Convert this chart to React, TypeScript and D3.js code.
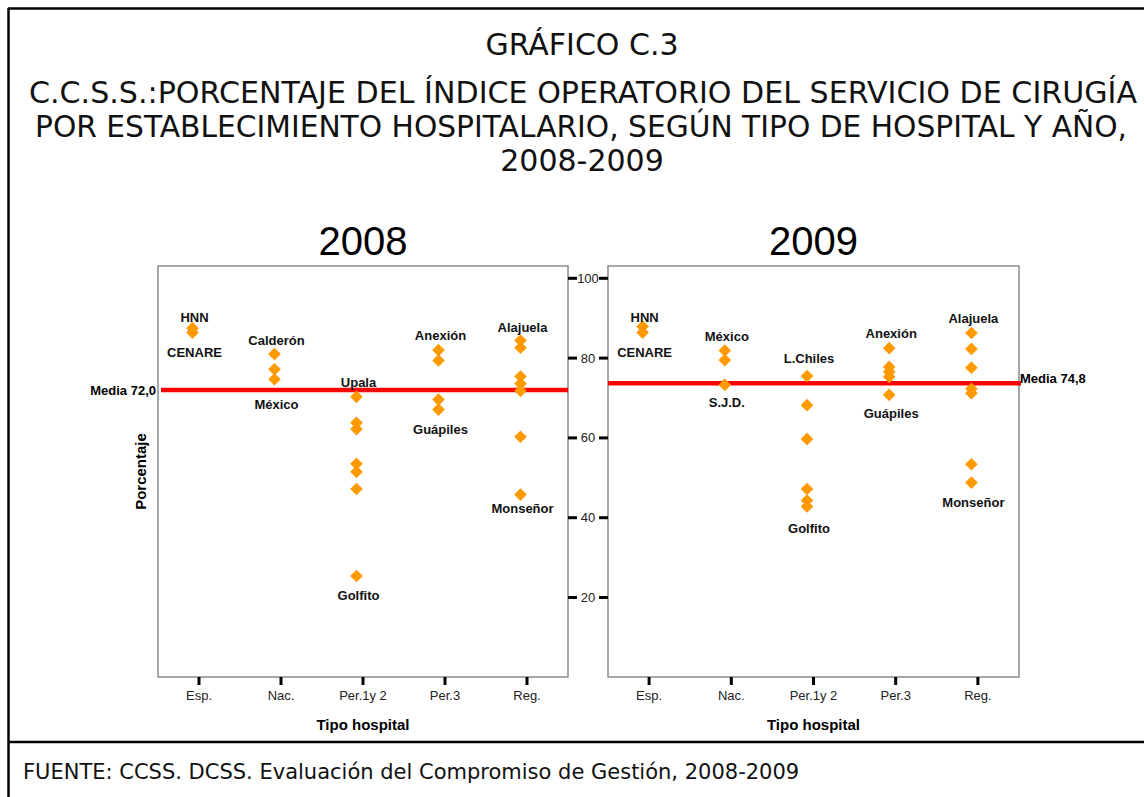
import * as d3 from "d3";

// tipo de hospital (eje x)
const categories = ["Esp.", "Nac.", "Per.1y 2", "Per.3", "Reg."];
const years = ["2008", "2009"];

// índice operatorio por establecimiento, agrupado por tipo
const values2008: number[][] = [
  [87.5, 86.4],
  [81.0, 77.2, 74.7],
  [70.3, 63.8, 62.2, 53.5, 51.5, 47.2, 25.4],
  [82.0, 79.4, 69.6, 67.1],
  [84.4, 82.6, 75.4, 73.6, 71.8, 60.3, 45.8],
];
const values2009: number[][] = [
  [87.9, 86.4],
  [81.9, 79.5, 73.3],
  [75.5, 68.2, 59.7, 47.2, 44.3, 42.8],
  [82.5, 77.8, 76.6, 75.3, 70.8],
  [86.3, 82.3, 77.6, 72.3, 71.2, 53.4, 48.8],
];

// media: linea dibujada y etiqueta
const meanLine = [72.0, 73.7];
const meanLabelValue = [72.0, 74.8];
const meanLabel = ["Media 72,0", "Media 74,8"];

// nombres de hospitales [texto, tipo, valor]
const labels2008: [string, string, number][] = [
  ["HNN", "Esp.", 90.3],
  ["CENARE", "Esp.", 81.5],
  ["Calderón", "Nac.", 84.5],
  ["México", "Nac.", 68.5],
  ["Upala", "Per.1y 2", 74.0],
  ["Golfito", "Per.1y 2", 20.4],
  ["Anexión", "Per.3", 85.8],
  ["Guápiles", "Per.3", 62.0],
  ["Alajuela", "Reg.", 87.8],
  ["Monseñor", "Reg.", 42.2],
];
const labels2009: [string, string, number][] = [
  ["HNN", "Esp.", 90.3],
  ["CENARE", "Esp.", 81.3],
  ["México", "Nac.", 85.5],
  ["S.J.D.", "Nac.", 68.8],
  ["L.Chiles", "Per.1y 2", 79.8],
  ["Golfito", "Per.1y 2", 37.4],
  ["Anexión", "Per.3", 86.3],
  ["Guápiles", "Per.3", 66.2],
  ["Alajuela", "Reg.", 90.0],
  ["Monseñor", "Reg.", 43.9],
];

const yTicks = [20, 40, 60, 80, 100];

const W = 1144;
const H = 797;
const panelTop = 266;
const panelBottom = 677;
const panels = [
  { x0: 158, x1: 568 },
  { x0: 608, x1: 1019 },
];
const arial = "Liberation Sans, Arial, sans-serif";
const verdana = "DejaVu Sans, Verdana, sans-serif";
const orange = "#FF9900";

const y = d3.scaleLinear().domain([0, 100]).range([677.3, 278.3]);
const diamond = d3.symbol().type(d3.symbolSquare).size(80)()!;

const Panel = ({ i }: { i: number }) => {
  const p = panels[i];
  const x = d3.scalePoint<string>().domain(categories).range([p.x0, p.x1]).padding(0.5);
  const vals = i === 0 ? values2008 : values2009;
  const labels = i === 0 ? labels2008 : labels2009;
  const px = (c: string) => (x(c) ?? 0) - 6.5;
  const cx = (p.x0 + p.x1) / 2;
  return (
    <g>
      <text x={cx} y={255} textAnchor="middle" fontFamily={arial} fontSize={40}>
        {years[i]}
      </text>
      <rect x={p.x0} y={panelTop} width={p.x1 - p.x0} height={panelBottom - panelTop}
        fill="white" stroke="#8a8a8a" strokeWidth={1.5} />
      <line x1={i === 0 ? p.x0 + 3 : p.x0} x2={p.x1 + (i === 0 ? 0 : 2)}
        y1={y(meanLine[i])} y2={y(meanLine[i])} stroke="#ff0000" strokeWidth={4.5} />
      {vals.map((arr, ci) =>
        arr.map((v, k) => (
          <path key={`${ci}-${k}`} d={diamond} fill={orange}
            transform={`translate(${px(categories[ci])},${y(v)}) rotate(45)`} />
        ))
      )}
      {labels.map(([t, c, v], k) => (
        <text key={k} x={(x(c) ?? 0) - 4.5} y={y(v)} dy="0.35em" textAnchor="middle"
          fontFamily={arial} fontWeight="bold" fontSize={13} fill="#111">
          {t}
        </text>
      ))}
      {categories.map((c) => (
        <g key={c}>
          <line x1={x(c)} x2={x(c)} y1={panelBottom} y2={panelBottom + 8} stroke="black" strokeWidth={3} />
          <text x={x(c)} y={695} dy="0.35em" textAnchor="middle" fontFamily={arial} fontSize={13} fill="#222">
            {c}
          </text>
        </g>
      ))}
      <text x={cx} y={725} dy="0.35em" textAnchor="middle" fontFamily={arial} fontWeight="bold" fontSize={15}>
        Tipo hospital
      </text>
      {i === 0 ? (
        <text x={156} y={y(meanLabelValue[0])} dy="0.35em" textAnchor="end" fontFamily={arial}
          fontWeight="bold" fontSize={13}>
          {meanLabel[0]}
        </text>
      ) : (
        <text x={1020} y={y(meanLabelValue[1])} dy="0.35em" textAnchor="start" fontFamily={arial}
          fontWeight="bold" fontSize={13}>
          {meanLabel[1]}
        </text>
      )}
    </g>
  );
};

export default function App() {
  return (
    <svg width={W} height={H} style={{ position: "absolute", left: 0, top: 0, background: "white" }}>
      <rect width={W} height={H} fill="white" />
      <line x1={8} x2={W} y1={8.5} y2={8.5} stroke="black" strokeWidth={2.5} />
      <line x1={8.5} x2={8.5} y1={8} y2={H} stroke="black" strokeWidth={2.5} />
      <line x1={8} x2={W} y1={742} y2={742} stroke="black" strokeWidth={2.5} />

      <g fontFamily={verdana} fontSize={30} textAnchor="middle" fill="#111">
        <text x={582} y={55}>GRÁFICO C.3</text>
        <text x={583} y={103} textLength={1108} lengthAdjust="spacingAndGlyphs">
          C.C.S.S.:PORCENTAJE DEL ÍNDICE OPERATORIO DEL SERVICIO DE CIRUGÍA
        </text>
        <text x={581} y={137} textLength={1092} lengthAdjust="spacingAndGlyphs">
          POR ESTABLECIMIENTO HOSPITALARIO, SEGÚN TIPO DE HOSPITAL Y AÑO,
        </text>
        <text x={582} y={171}>2008-2009</text>
      </g>

      <Panel i={0} />
      <Panel i={1} />

      {yTicks.map((t) => (
        <g key={t}>
          <line x1={568} x2={577} y1={y(t)} y2={y(t)} stroke="black" strokeWidth={3} />
          <line x1={599} x2={608} y1={y(t)} y2={y(t)} stroke="black" strokeWidth={3} />
          <text x={588} y={y(t)} dy="0.35em" textAnchor="middle" fontFamily={arial} fontSize={13} fill="#222">
            {t}
          </text>
        </g>
      ))}

      <text transform={`translate(141,${(panelTop + panelBottom) / 2}) rotate(-90)`} dy="0.35em"
        textAnchor="middle" fontFamily={arial} fontWeight="bold" fontSize={15}>
        Porcentaje
      </text>

      <text x={23} y={779} fontFamily={verdana} fontSize={21} fill="#111">
        FUENTE: CCSS. DCSS. Evaluación del Compromiso de Gestión, 2008-2009
      </text>
    </svg>
  );
}
